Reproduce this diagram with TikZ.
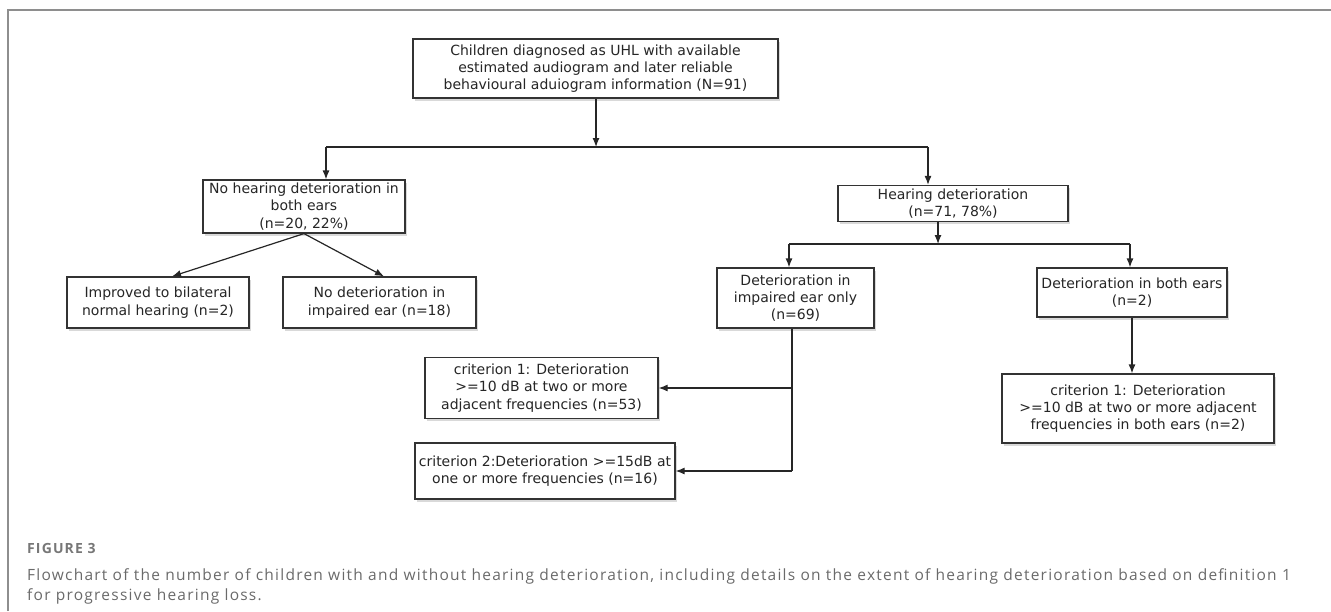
\documentclass[tikz,border=0pt]{standalone}
\usepackage{fontspec}
\setmainfont{DejaVu Sans}
\newfontfamily\capfont{Open Sans}[LetterSpace=8]
\usepackage{xcolor}
\usetikzlibrary{arrows.meta, shadows}

\definecolor{framegray}{HTML}{8E8E8E}
\definecolor{capgray}{HTML}{6A6A6A}
\definecolor{labelgray}{HTML}{777777}

\begin{document}
\begin{tikzpicture}[x=1pt, y=-1pt, >={Latex[length=9pt,width=7pt]},
    box/.style={draw=black!80, line width=1.2pt, fill=white, align=center, inner sep=0pt,
        font=\fontsize{14}{17.3}\selectfont, text=black!85,
        drop shadow={shadow xshift=2pt, shadow yshift=-2.5pt, opacity=0.3}},
    link/.style={line width=1.2pt, draw=black!85},
    caption/.style={anchor=base west, inner sep=0pt, text=capgray, font=\capfont\fontsize{15.5}{20}\selectfont}]
    \useasboundingbox (0,0) rectangle (1331,611);
    \draw[framegray, line width=1.3pt] (8,611) -- (8,10) -- (1331,10);

    % boxes
    \node[box, minimum width=365pt, minimum height=59pt] (all) at (595.5,68.5)
        {Children diagnosed as UHL with available\\ estimated audiogram and later reliable\\ behavioural aduiogram information (N=91)};
    \node[box, minimum width=202pt, minimum height=53pt] (nohear) at (304,206.5)
        {No hearing deterioration in\\ both ears\\ (n=20, 22\%)};
    \node[box, minimum width=230pt, minimum height=36pt] (hear) at (953,203.5)
        {Hearing deterioration\\ (n=71, 78\%)};
    \node[box, minimum width=182pt, minimum height=51pt] (improved) at (158,302.5)
        {Improved to bilateral\\ normal hearing (n=2)};
    \node[box, minimum width=193pt, minimum height=51pt] (nodet) at (379.5,302.5)
        {No deterioration in\\ impaired ear (n=18)};
    \node[box, minimum width=157pt, minimum height=60pt] (impaired) at (795.5,298)
        {Deterioration in\\ impaired ear only\\ (n=69)};
    \node[box, minimum width=190pt, minimum height=49pt] (both) at (1132,292.5)
        {Deterioration in both ears\\ (n=2)};
    \node[box, minimum width=272pt, minimum height=69pt] (critboth) at (1138,408.5)
        {criterion 1: Deterioration\\ >=10 dB at two or more adjacent\\ frequencies in both ears (n=2)};
    \node[box, minimum width=233pt, minimum height=61pt] (critone) at (541.5,388)
        {criterion 1: Deterioration\\ >=10 dB at two or more\\ adjacent frequencies (n=53)};
    \node[box, minimum width=260pt, minimum height=56pt] (crittwo) at (545,471)
        {criterion 2:Deterioration >=15dB at\\ one or more frequencies (n=16)};

    % junctions
    \coordinate (split) at (596,147);
    \coordinate (splitL) at (326,147);
    \coordinate (splitR) at (928,147);
    \coordinate (fork) at (938,244);
    \coordinate (forkL) at (789,244);
    \coordinate (forkR) at (1130,244);
    \coordinate (trunk) at (792,471);

    % connectors
    \draw[link,->] (all.south -| split) -- (split);
    \draw[link] (splitL) -- (splitR);
    \draw[link,->] (hear.south -| fork) -- (fork);
    \draw[link] (forkL) -- (forkR);
    \foreach \j/\b in {splitL/nohear, splitR/hear, forkL/impaired, forkR/both}
        \draw[link,->] (\j) -- (\j |- \b.north);
    \foreach \b/\dx in {improved/14, nodet/4.5}
        \draw[link,->] (nohear.south) -- ([xshift=\dx pt]\b.north);
    \draw[link,->] (both.south) -- (both.south |- critboth.north);
    \draw[link] (impaired.south -| trunk) -- (trunk);
    \draw[link,->] (trunk |- critone.east) -- (critone.east);
    \draw[link,->] (trunk) -- (crittwo.east);

    % caption
    \node[caption, text=labelgray, font=\capfont\bfseries\fontsize{14}{16}\selectfont] (figlabel) at (27,553) {FIGURE 3};
    \node[caption] (capline1) at (27,580) {Flowchart of the number of children with and without hearing deterioration, including details on the extent of hearing deterioration based on definition 1};
    \node[caption] (capline2) at (27,600) {for progressive hearing loss.};
\end{tikzpicture}
\end{document}
